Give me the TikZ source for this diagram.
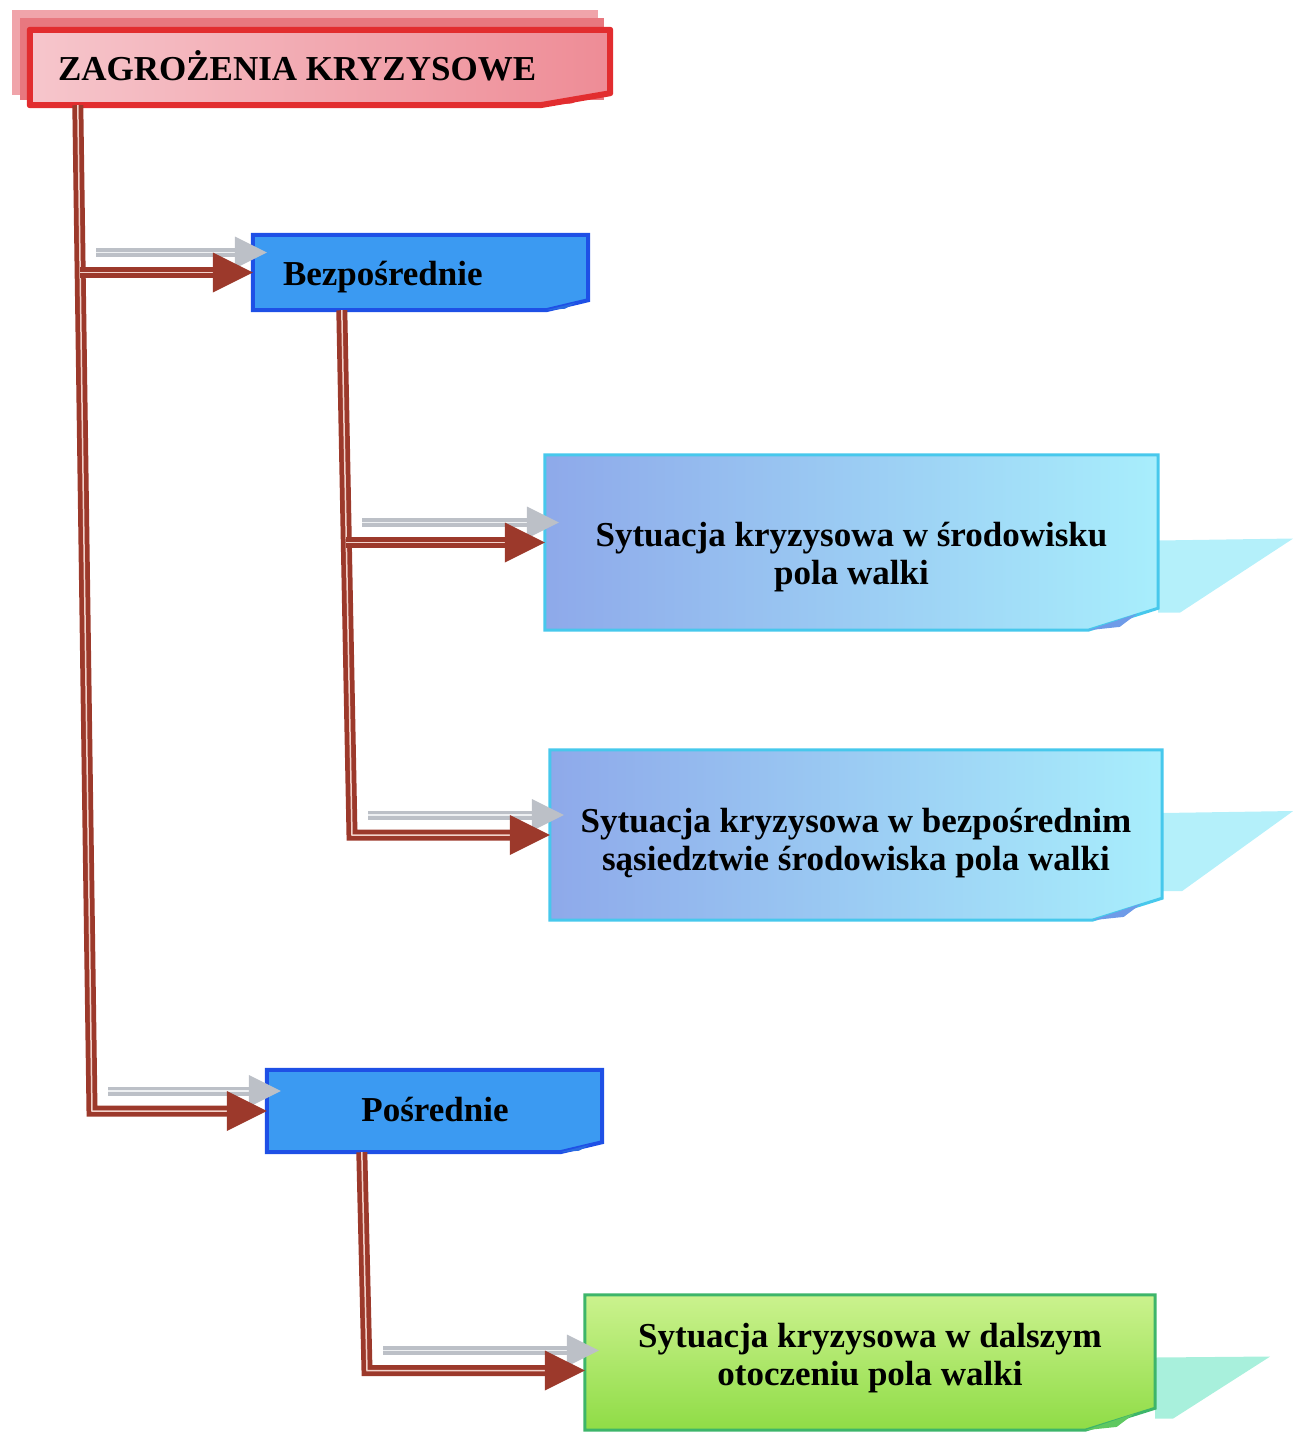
\documentclass[tikz,border=0pt]{standalone}
\usepackage{fontspec}
\setmainfont{Liberation Serif}
\usetikzlibrary{backgrounds,calc}

\definecolor{connred}{HTML}{9C392B}
\definecolor{connlight}{HTML}{F2D2CA}
\definecolor{shadowgray}{HTML}{BCC0C7}
\definecolor{shadowlight}{HTML}{EEF0F2}
\definecolor{topborder}{HTML}{E22D2F}
\definecolor{topfillA}{HTML}{F6C6CC}
\definecolor{topfillB}{HTML}{EE8C96}
\definecolor{toplayerA}{HTML}{F0A4AA}
\definecolor{toplayerB}{HTML}{E8787F}
\definecolor{catfill}{HTML}{3B9AF2}
\definecolor{catborder}{HTML}{1E50E6}
\definecolor{catflap}{HTML}{2A6CE0}
\definecolor{sitA}{HTML}{8EA9EA}
\definecolor{sitB}{HTML}{A9D5F6}
\definecolor{sitC}{HTML}{A8EEFC}
\definecolor{sitborder}{HTML}{47C8EC}
\definecolor{sitflap}{HTML}{6E9BE8}
\definecolor{sitshadow}{HTML}{B4F0FA}
\definecolor{farA}{HTML}{CBF28E}
\definecolor{farB}{HTML}{8FDC46}
\definecolor{farborder}{HTML}{3DB56A}
\definecolor{farflap}{HTML}{5FC860}
\definecolor{farshadow}{HTML}{A8F0DC}

% box outline with a turned-up bottom-right corner:
% node, outline style, flap colour, fold width, fold rise
\newcommand{\foldedbox}[5]{%
  \path[#2] (#1.north west) -- (#1.north east)
    -- ([yshift=#5pt]#1.south east) -- ([xshift=-#4pt]#1.south east)
    -- (#1.south west) -- cycle;
  \fill[#3] ([xshift=-#4pt]#1.south east)
    -- ([xshift={-0.3*#4pt},yshift={0.75*#5pt}]#1.south east)
    -- ([xshift={-0.55*#4pt},yshift={0.15*#5pt}]#1.south east) -- cycle;}

% grey shadow arrow above a branch: start point, box anchor
\newcommand{\grayarrow}[2]{%
  \draw[graybody] ($(#1)+(16,-20)$) -- ($(#2)+(-16,-20)$);
  \draw[graystripe] ($(#1)+(16,-20)$) -- ($(#2)+(-16,-20)$);
  \fill[shadowgray] ($(#2)+(14,-20)$) -- ++(-32,-16) -- ++(0,32) -- cycle;}

% red connector: heavy band with a thin light stripe on its outer side
\newcommand{\connector}[1]{%
  \draw[redbody] #1;
  \draw[redstripe] #1;}

% red arrow head on the west side of a box
\newcommand{\redhead}[1]{%
  \fill[connred] (#1) -- ++(-40,-20) -- ++(0,40) -- cycle;}

\begin{document}
\begin{tikzpicture}[x=1pt,y=-1pt,
  frame/.style={inner sep=0pt, draw=none},
  txt/.style={font=\fontsize{35}{38}\selectfont\bfseries, inner sep=0pt, align=center},
  topstyle/.style={draw=topborder, line width=6pt, line join=round, left color=topfillA, right color=topfillB},
  catstyle/.style={draw=catborder, line width=4pt, fill=catfill},
  sitstyle/.style={draw=sitborder, line width=3pt, left color=sitA, middle color=sitB, right color=sitC},
  farstyle/.style={draw=farborder, line width=3pt, top color=farA, bottom color=farB},
  redbody/.style={draw=connred, line width=11pt},
  redstripe/.style={draw=connlight, line width=1.5pt, shift={(-3,3)}},
  graybody/.style={draw=shadowgray, line width=9pt},
  graystripe/.style={draw=shadowlight, line width=1.2pt, shift={(0,2.2)}}]

\useasboundingbox (0,0) rectangle (1293,1433);

% box frames
\node[frame, minimum width=580, minimum height=75]  (top) at (320,67.5) {};
\node[frame, minimum width=335, minimum height=75]  (bez) at (420.5,272.5) {};
\node[frame, minimum width=613, minimum height=175] (b1)  at (851.5,542.5) {};
\node[frame, minimum width=612, minimum height=170] (b2)  at (856,835) {};
\node[frame, minimum width=335, minimum height=82]  (pos) at (434.5,1111) {};
\node[frame, minimum width=570, minimum height=135] (b3)  at (870,1362.5) {};

% labels
\node[txt, anchor=base west] (topt) at ($(top.west)+(28,12.5)$) {ZAGROŻENIA KRYZYSOWE};
\node[txt, anchor=base west] (bezt) at ($(bez.west)+(30,12.5)$) {Bezpośrednie};
\node[txt, anchor=base] (post) at ($(pos.center)+(0.5,10)$) {Pośrednie};
\node[txt] (b1t) at ($(b1.center)+(0,14.5)$) {Sytuacja kryzysowa w środowisku\\pola walki};
\node[txt] (b2t) at ($(b2.center)+(0,8)$) {Sytuacja kryzysowa w bezpośrednim\\sąsiedztwie środowiska pola walki};
\node[txt] (b3t) at ($(b3.center)+(0,-4.5)$) {Sytuacja kryzysowa w dalszym\\otoczeniu pola walki};

% connector geometry
\coordinate (m0) at ([xshift=48pt]top.south west);
\coordinate (mx) at (92,0);
\coordinate (m2) at (pos.west -| mx);
\coordinate (mp) at ($(m0)!(bez.west)!(m2)$);
\coordinate (mb) at (bez.west -| mp);
\coordinate (s0) at ([xshift=89pt]bez.south west);
\coordinate (sx) at (352,0);
\coordinate (s2) at (b2.west -| sx);
\coordinate (sp) at ($(s0)!(b1.west)!(s2)$);
\coordinate (sb) at (b1.west -| sp);
\coordinate (p0) at ([xshift=95pt]pos.south west);
\coordinate (px) at (367,0);
\coordinate (b3in) at ([yshift=-8pt]b3.west);
\coordinate (p2) at (b3in -| px);

\begin{scope}[on background layer]
  % projected shadows of the situation boxes
  \fill[sitshadow] ($(b1.east)+(0,-2)$) -- ($(b1.east)+(135,-4)$) -- ($(b1.east)+(22,70)$) -- ($(b1.east)+(0,70)$) -- cycle;
  \fill[sitshadow] ($(b2.east)+(0,-22)$) -- ($(b2.east)+(131,-24)$) -- ($(b2.east)+(20,56)$) -- ($(b2.east)+(0,56)$) -- cycle;
  \fill[farshadow] ($(b3.east)+(0,-5)$) -- ($(b3.east)+(115,-6)$) -- ($(b3.east)+(18,56)$) -- ($(b3.east)+(0,56)$) -- cycle;

  % stacked sheets behind the title
  \fill[toplayerA] ([shift={(-18,-20)}]top.north west) rectangle ([shift={(-12,-10)}]top.south east);
  \fill[toplayerB] ([shift={(-10,-12)}]top.north west) rectangle ([shift={(-6,-5)}]top.south east);

  % boxes
  \foldedbox{top}{topstyle}{topborder}{70}{12}
  \foldedbox{bez}{catstyle}{catflap}{42}{10}
  \foldedbox{pos}{catstyle}{catflap}{42}{10}
  \foldedbox{b1}{sitstyle}{sitflap}{70}{22}
  \foldedbox{b2}{sitstyle}{sitflap}{70}{22}
  \foldedbox{b3}{farstyle}{farflap}{70}{22}

  % grey shadow arrows
  \grayarrow{mb}{bez.west}
  \grayarrow{m2}{pos.west}
  \grayarrow{sb}{b1.west}
  \grayarrow{s2}{b2.west}
  \grayarrow{p2}{b3in}

  % trunk from the title, branching to both categories
  \connector{(m0) -- (m2) -- ($(pos.west)+(-38,0)$)}
  \connector{(mb) -- ($(bez.west)+(-38,0)$)}
  \redhead{pos.west}
  \redhead{bez.west}

  % direct threats
  \connector{(s0) -- (s2) -- ($(b2.west)+(-38,0)$)}
  \connector{(sb) -- ($(b1.west)+(-38,0)$)}
  \redhead{b2.west}
  \redhead{b1.west}

  % indirect threats
  \connector{(p0) -- (p2) -- ($(b3in)+(-38,0)$)}
  \redhead{b3in}
\end{scope}
\end{tikzpicture}
\end{document}
